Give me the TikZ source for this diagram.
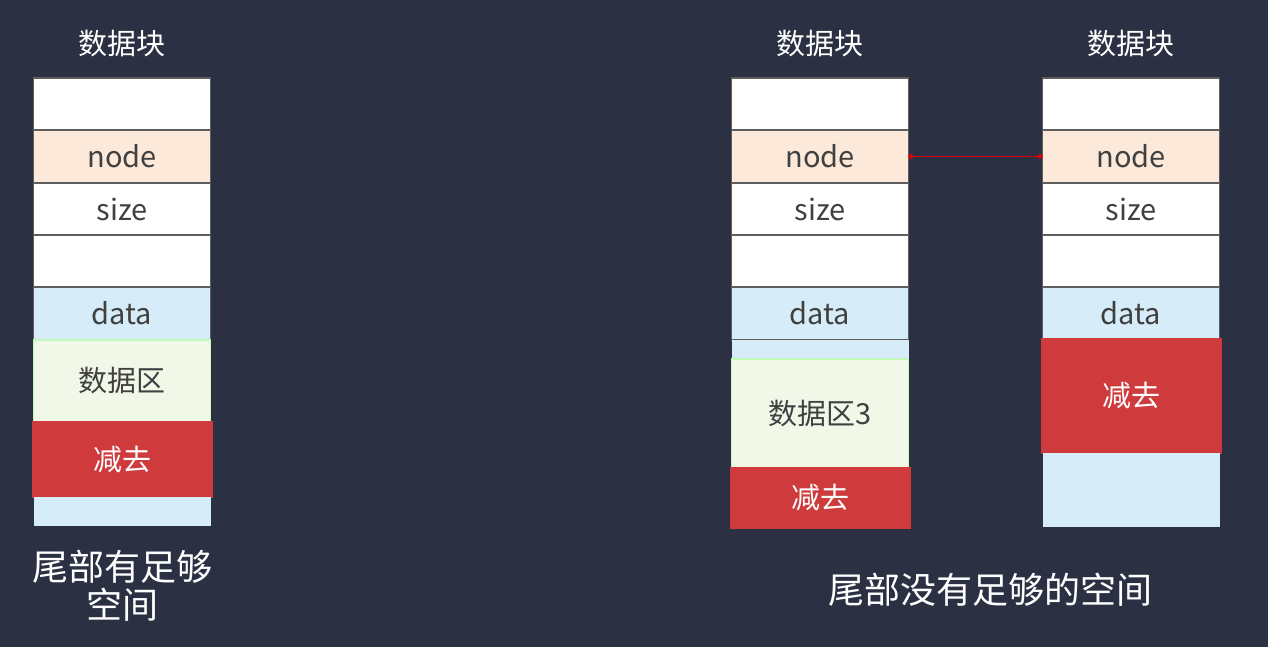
\documentclass[tikz,border=0pt]{standalone}
\usepackage{fontspec}
\setmainfont{Noto Sans CJK SC}
\usetikzlibrary{arrows.meta,positioning}
\definecolor{Board}{HTML}{2B3142}
\definecolor{Ink}{HTML}{404040}
\definecolor{Rule}{HTML}{5E5E5E}
\definecolor{Peach}{HTML}{FDE9D9}
\definecolor{Sky}{HTML}{D6ECF8}
\definecolor{Mint}{HTML}{F1F8E8}
\definecolor{Brick}{HTML}{CF3B3C}
\definecolor{Link}{HTML}{E00000}
\tikzset{
  cell/.style={draw=Rule,line width=1.2pt,fill=white,minimum width=177pt,inner sep=0pt,outer sep=0pt,text=Ink,font=\fontsize{29}{34}\selectfont},
  nodecell/.style={cell,fill=Peach},
  datacell/.style={cell,fill=Sky},
  gapcell/.style={cell,fill=Sky,draw=none},
  areacell/.style={cell,fill=Mint,draw=Mint!80!green},
  cutcell/.style={cell,fill=Brick,draw=Brick,line width=2pt,minimum width=179pt,text=white},
  title/.style={text=white,font=\fontsize{29}{34}\selectfont},
  note/.style={text=white,align=center,font=\fontsize{36}{38}\selectfont},
  link/.style={{Circle[length=5pt]}-{Circle[length=5pt]},draw=Link,line width=1.6pt}
}
\begin{document}
\begin{tikzpicture}[x=1pt,y=-1pt]
  \fill[Board] (0,0) rectangle (1268,647);
  \useasboundingbox (0,0) rectangle (1268,647);
  % tail has enough room
  \node[title] (lt) at (122,44) {数据块};
  \node[cell,minimum height=52pt] (l1) at (122,104) {};
  \node[nodecell,minimum height=53pt,below=0pt of l1] (l2) {node};
  \node[cell,minimum height=52pt,below=0pt of l2] (l3) {size};
  \node[cell,minimum height=52pt,below=0pt of l3] (l4) {};
  \node[datacell,minimum height=53pt,below=0pt of l4] (l5) {data};
  \node[areacell,minimum height=82pt,below=0pt of l5] (l6) {数据区};
  \node[cutcell,minimum height=75pt,below=0pt of l6] (l7) {减去};
  \node[gapcell,minimum height=29pt,below=0pt of l7] (l8) {};
  \node[note] (lnote) at (122,586) {尾部有足够\\空间};
  % tail lacks room
  \node[title] (mt) at (820,44) {数据块};
  \node[cell,minimum height=52pt] (m1) at (820,104) {};
  \node[nodecell,minimum height=53pt,below=0pt of m1] (m2) {node};
  \node[cell,minimum height=52pt,below=0pt of m2] (m3) {size};
  \node[cell,minimum height=52pt,below=0pt of m3] (m4) {};
  \node[datacell,minimum height=53pt,below=0pt of m4] (m5) {data};
  \node[gapcell,minimum height=19pt,below=0pt of m5] (m6) {};
  \node[areacell,minimum height=109pt,below=0pt of m6] (m7) {数据区3};
  \node[cutcell,minimum height=60pt,below=0pt of m7] (m8) {减去};
  \node[title] (rt) at (1131,44) {数据块};
  \node[cell,minimum height=52pt] (r1) at (1131,104) {};
  \node[nodecell,minimum height=53pt,below=0pt of r1] (r2) {node};
  \node[cell,minimum height=52pt,below=0pt of r2] (r3) {size};
  \node[cell,minimum height=52pt,below=0pt of r3] (r4) {};
  \node[datacell,minimum height=52pt,below=0pt of r4] (r5) {data};
  \node[cutcell,minimum height=114pt,below=0pt of r5] (r6) {减去};
  \node[gapcell,minimum height=74pt,below=0pt of r6] (r7) {};
  \node[note] (rnote) at (990,590) {尾部没有足够的空间};
  \draw[link] (m2.east) -- (r2.west);
\end{tikzpicture}
\end{document}
